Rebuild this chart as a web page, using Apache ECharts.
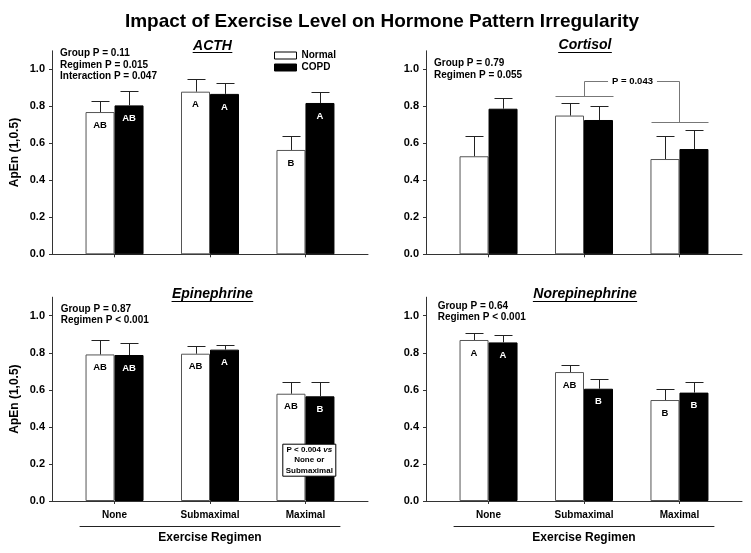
<!DOCTYPE html>
<html><head><meta charset="utf-8">
<script src="https://cdn.jsdelivr.net/npm/echarts@6/dist/echarts.min.js"></script>
<style>html,body{margin:0;padding:0;background:#fff}#c{width:751px;height:553px}</style>
</head><body><div id="c"></div>
<script>
// ---------------- DATA ----------------
const categories = ['None', 'Submaximal', 'Maximal'];
const catPos = [1, 2, 3];
const yTicks = [0, 0.2, 0.4, 0.6, 0.8, 1.0];
const groupNames = ['Normal', 'COPD'];
const panelNames = ['ACTH', 'Cortisol', 'Epinephrine', 'Norepinephrine'];
const mainTitle = 'Impact of Exercise Level on Hormone Pattern Irregularity';
const yName = 'ApEn (1,0.5)';
const xName = 'Exercise Regimen';

const acthNormal = [0.769, 0.879, 0.564];
const acthNormalSE = [0.060, 0.067, 0.074];
const acthCOPD = [0.805, 0.867, 0.818];
const acthCOPDSE = [0.078, 0.061, 0.061];
const acthNormalLetters = ['AB', 'A', 'B'];
const acthCOPDLetters = ['AB', 'A', 'A'];

const cortNormal = [0.530, 0.750, 0.515];
const cortNormalSE = [0.108, 0.066, 0.125];
const cortCOPD = [0.787, 0.726, 0.569];
const cortCOPDSE = [0.056, 0.078, 0.105];
const cortNormalLetters = ['', '', ''];
const cortCOPDLetters = ['', '', ''];

const epiNormal = [0.791, 0.795, 0.579];
const epiNormalSE = [0.076, 0.041, 0.063];
const epiCOPD = [0.788, 0.817, 0.565];
const epiCOPDSE = [0.063, 0.023, 0.075];
const epiNormalLetters = ['AB', 'AB', 'AB'];
const epiCOPDLetters = ['AB', 'A', 'B'];

const norNormal = [0.869, 0.696, 0.545];
const norNormalSE = [0.039, 0.040, 0.058];
const norCOPD = [0.856, 0.606, 0.585];
const norCOPDSE = [0.040, 0.054, 0.055];
const norNormalLetters = ['A', 'AB', 'B'];
const norCOPDLetters = ['A', 'B', 'B'];

const acthStats = ['Group P = 0.11', 'Regimen P = 0.015', 'Interaction P = 0.047'];
const cortStats = ['Group P = 0.79', 'Regimen P = 0.055'];
const epiStats = ['Group P = 0.87', 'Regimen P < 0.001'];
const norStats = ['Group P = 0.64', 'Regimen P < 0.001'];

// Cortisol comparison bracket: [from category, to category, left level, top level, right level]
const cortBracket = [2, 3, 0.856, 0.938, 0.717];
const cortBracketLabel = 'P = 0.043';
const epiNoteLines = ['P < 0.004 ', 'vs', 'None or', 'Submaximal'];

// ---------------- LAYOUT / STYLE ----------------
const FF = '"Liberation Sans", Arial, Helvetica, sans-serif';
const FFN = '"Liberation Sans Narrow", "Arial Narrow", "Liberation Sans", sans-serif';
const gridPos = [[52, 50.8, 203.5], [426, 50.8, 203.5], [52, 297.2, 203.8], [426, 297.2, 203.8]];
const GW = 316;
const titleCx = [212.5, 585, 212.4, 585];
const titleUy = [52.7, 52.3, 301, 301];
const statsPos = [[60, 47.5], [434, 57.5], [60.7, 303], [437.7, 300]];
const regimenLine = [[80, 260], [454, 260]];
const regimenY = 526.7;
const BAR_W = 29, CAP_HALF = 9;
const AXIS_C = '#333';

const panels = [
  {n: acthNormal, nse: acthNormalSE, c: acthCOPD, cse: acthCOPDSE, nl: acthNormalLetters, cl: acthCOPDLetters, stats: acthStats},
  {n: cortNormal, nse: cortNormalSE, c: cortCOPD, cse: cortCOPDSE, nl: cortNormalLetters, cl: cortCOPDLetters, stats: cortStats},
  {n: epiNormal, nse: epiNormalSE, c: epiCOPD, cse: epiCOPDSE, nl: epiNormalLetters, cl: epiCOPDLetters, stats: epiStats},
  {n: norNormal, nse: norNormalSE, c: norCOPD, cse: norCOPDSE, nl: norNormalLetters, cl: norCOPDLetters, stats: norStats}
];

const mctx = document.createElement('canvas').getContext('2d');
function textW(t, font) { mctx.font = font; return mctx.measureText(t).width; }

const grid = [], xAxis = [], yAxis = [], series = [], title = [];

title.push({
  text: mainTitle, left: 382, top: 12, textAlign: 'center', padding: 0,
  textStyle: {fontSize: 19, fontWeight: 'bold', fontFamily: FFN, color: '#000'}
});

function errRender(params, api) {
  const x = api.value(0), v = api.value(1), t = api.value(2), s = api.value(3);
  const p = api.coord([x, v]), q = api.coord([x, t]);
  const cx = Math.round(p[0] + s * BAR_W / 2) + 0.5;
  const ty = Math.round(q[1]) + 0.5;
  const st = {stroke: '#222', lineWidth: 1};
  return {type: 'group', children: [
    {type: 'line', shape: {x1: cx, y1: p[1], x2: cx, y2: ty}, style: st},
    {type: 'line', shape: {x1: cx - CAP_HALF, y1: ty, x2: cx + CAP_HALF, y2: ty}, style: st}
  ]};
}

panels.forEach((P, i) => {
  const [gl, gt, gh] = gridPos[i];
  grid.push({left: gl, top: gt, width: GW, height: gh});
  const bottomRow = i >= 2;
  xAxis.push({
    gridIndex: i, type: 'value', min: 0.345, max: 3.655,
    axisLine: {show: true, onZero: false, lineStyle: {color: AXIS_C, width: 1}},
    axisTick: {show: true, customValues: catPos, length: 3, lineStyle: {color: AXIS_C}},
    axisLabel: {show: bottomRow, customValues: catPos, formatter: v => categories[Math.round(v) - 1] || '',
      margin: 9, fontSize: 10, fontWeight: 'bold', color: '#000', fontFamily: FF},
    splitLine: {show: false}
  });
  yAxis.push({
    gridIndex: i, type: 'value', min: 0, max: 1.1,
    axisLine: {show: true, lineStyle: {color: AXIS_C, width: 1}},
    axisTick: {show: true, customValues: yTicks, length: 3, lineStyle: {color: AXIS_C}},
    axisLabel: {customValues: yTicks, formatter: v => v.toFixed(1), margin: 7,
      fontSize: 11, fontWeight: 'bold', color: '#000', fontFamily: FF},
    splitLine: {show: false},
    name: i % 2 === 0 ? yName : '', nameLocation: 'middle', nameGap: 31,
    nameTextStyle: {fontSize: 12, fontWeight: 'bold', color: '#000', fontFamily: FF}
  });
  const mk = (vals, letters, name, fill, border, lblColor) => ({
    type: 'bar', name: name, xAxisIndex: i, yAxisIndex: i,
    data: catPos.map((x, k) => [x, vals[k]]),
    barWidth: BAR_W, barGap: '0%',
    itemStyle: {color: fill, borderColor: border, borderWidth: 1},
    label: {show: true, position: 'insideTop', distance: 8, formatter: p => letters[p.dataIndex],
      color: lblColor, fontSize: 9.5, fontWeight: 'bold', fontFamily: FF},
    emphasis: {disabled: true}, silent: true, z: 2
  });
  series.push(mk(P.n, P.nl, groupNames[0], '#fff', '#555', '#000'));
  series.push(mk(P.c, P.cl, groupNames[1], '#000', '#000', '#fff'));
  const errData = catPos.map((x, k) => [x, P.n[k], P.n[k] + P.nse[k], -1])
    .concat(catPos.map((x, k) => [x, P.c[k], P.c[k] + P.cse[k], 1]));
  series.push({type: 'custom', name: 'err' + i, xAxisIndex: i, yAxisIndex: i, data: errData,
    renderItem: errRender, silent: true, z: 3});

  // stats text
  title.push({text: P.stats.join('\n'), left: statsPos[i][0], top: statsPos[i][1], padding: 0,
    textStyle: {fontSize: 10, fontWeight: 'bold', lineHeight: 11.5, color: '#000', fontFamily: FF}});
});

// Cortisol bracket
series.push({
  type: 'custom', name: 'bracket', xAxisIndex: 1, yAxisIndex: 1, data: [cortBracket], silent: true, z: 4,
  renderItem: (params, api) => {
    const x1 = api.value(0), x2 = api.value(1), yl = api.value(2), yt = api.value(3), yr = api.value(4);
    const hw = 0.3;
    const c = (x, y) => { const p = api.coord([x, y]); return [Math.round(p[0]) + 0.5, Math.round(p[1]) + 0.5]; };
    const st = {stroke: '#777', lineWidth: 1, fill: null};
    const mid = c((x1 + x2) / 2, yt);
    return {type: 'group', children: [
      {type: 'polyline', shape: {points: [c(x1 - hw, yl), c(x1 + hw, yl)]}, style: st},
      {type: 'polyline', shape: {points: [c(x1, yl), c(x1, yt), c(x2, yt), c(x2, yr)]}, style: st},
      {type: 'polyline', shape: {points: [c(x2 - hw, yr), c(x2 + hw, yr)]}, style: st},
      {type: 'text', x: mid[0], y: mid[1], z2: 10, style: {text: cortBracketLabel, fill: '#000',
        font: 'bold 9.5px ' + FF, align: 'center', verticalAlign: 'middle',
        backgroundColor: '#fff', padding: [1, 4]}}
    ]};
  }
});

// Panel titles (text + underline via axis)
panelNames.forEach((nm, i) => {
  const w = textW(nm, 'italic bold 14px "Liberation Sans"');
  const gi = grid.length;
  grid.push({left: titleCx[i] - w / 2, top: titleUy[i], width: w, height: 0});
  xAxis.push({gridIndex: gi, type: 'value', min: 0, max: 1, position: 'top',
    axisLine: {show: true, lineStyle: {color: '#000', width: 1}}, axisTick: {show: false},
    axisLabel: {show: false}, splitLine: {show: false},
    name: nm, nameLocation: 'middle', nameGap: 0,
    nameTextStyle: {fontSize: 14, fontWeight: 'bold', fontStyle: 'italic', color: '#000', fontFamily: FF}});
  yAxis.push({gridIndex: gi, type: 'value', show: false});
});

// Exercise Regimen underline + name
regimenLine.forEach(([l, w]) => {
  const gi = grid.length;
  grid.push({left: l, top: regimenY, width: w, height: 0});
  xAxis.push({gridIndex: gi, type: 'value', min: 0, max: 1, position: 'bottom',
    axisLine: {show: true, lineStyle: {color: '#222', width: 1}}, axisTick: {show: false},
    axisLabel: {show: false}, splitLine: {show: false},
    name: xName, nameLocation: 'middle', nameGap: 5,
    nameTextStyle: {fontSize: 12, fontWeight: 'bold', color: '#000', fontFamily: FF}});
  yAxis.push({gridIndex: gi, type: 'value', show: false});
});

// Epinephrine note box
title.push({
  text: '{n|' + epiNoteLines[0] + '}{i|' + epiNoteLines[1] + '}\n{n|' + epiNoteLines[2] + '}\n{n|' + epiNoteLines[3] + '}',
  left: 306.3, top: 442.7, textAlign: 'center', padding: [2, 3, 2, 3],
  backgroundColor: '#fff', borderColor: '#000', borderWidth: 1,
  textStyle: {rich: {
    n: {fontSize: 8, fontWeight: 'bold', lineHeight: 10.3, color: '#000', fontFamily: FF, align: 'center'},
    i: {fontSize: 8, fontWeight: 'bold', fontStyle: 'italic', lineHeight: 10.3, color: '#000', fontFamily: FF, align: 'center'}
  }}
});

const option = {
  animation: false,
  backgroundColor: '#fff',
  textStyle: {fontFamily: FF},
  title: title,
  legend: {
    orient: 'vertical', left: 274, top: 50.5, itemWidth: 22, itemHeight: 7, itemGap: 2,
    selectedMode: false, padding: 0,
    textStyle: {fontSize: 10, fontWeight: 'bold', color: '#000', fontFamily: FF},
    data: [
      {name: groupNames[0], icon: 'rect', itemStyle: {color: '#fff', borderColor: '#000', borderWidth: 1}},
      {name: groupNames[1], icon: 'rect', itemStyle: {color: '#000', borderColor: '#000', borderWidth: 1}}
    ]
  },
  grid: grid, xAxis: xAxis, yAxis: yAxis, series: series
};

const chart = echarts.init(document.getElementById('c'), null, {renderer: 'canvas'});
chart.setOption(option);
</script></body></html>
